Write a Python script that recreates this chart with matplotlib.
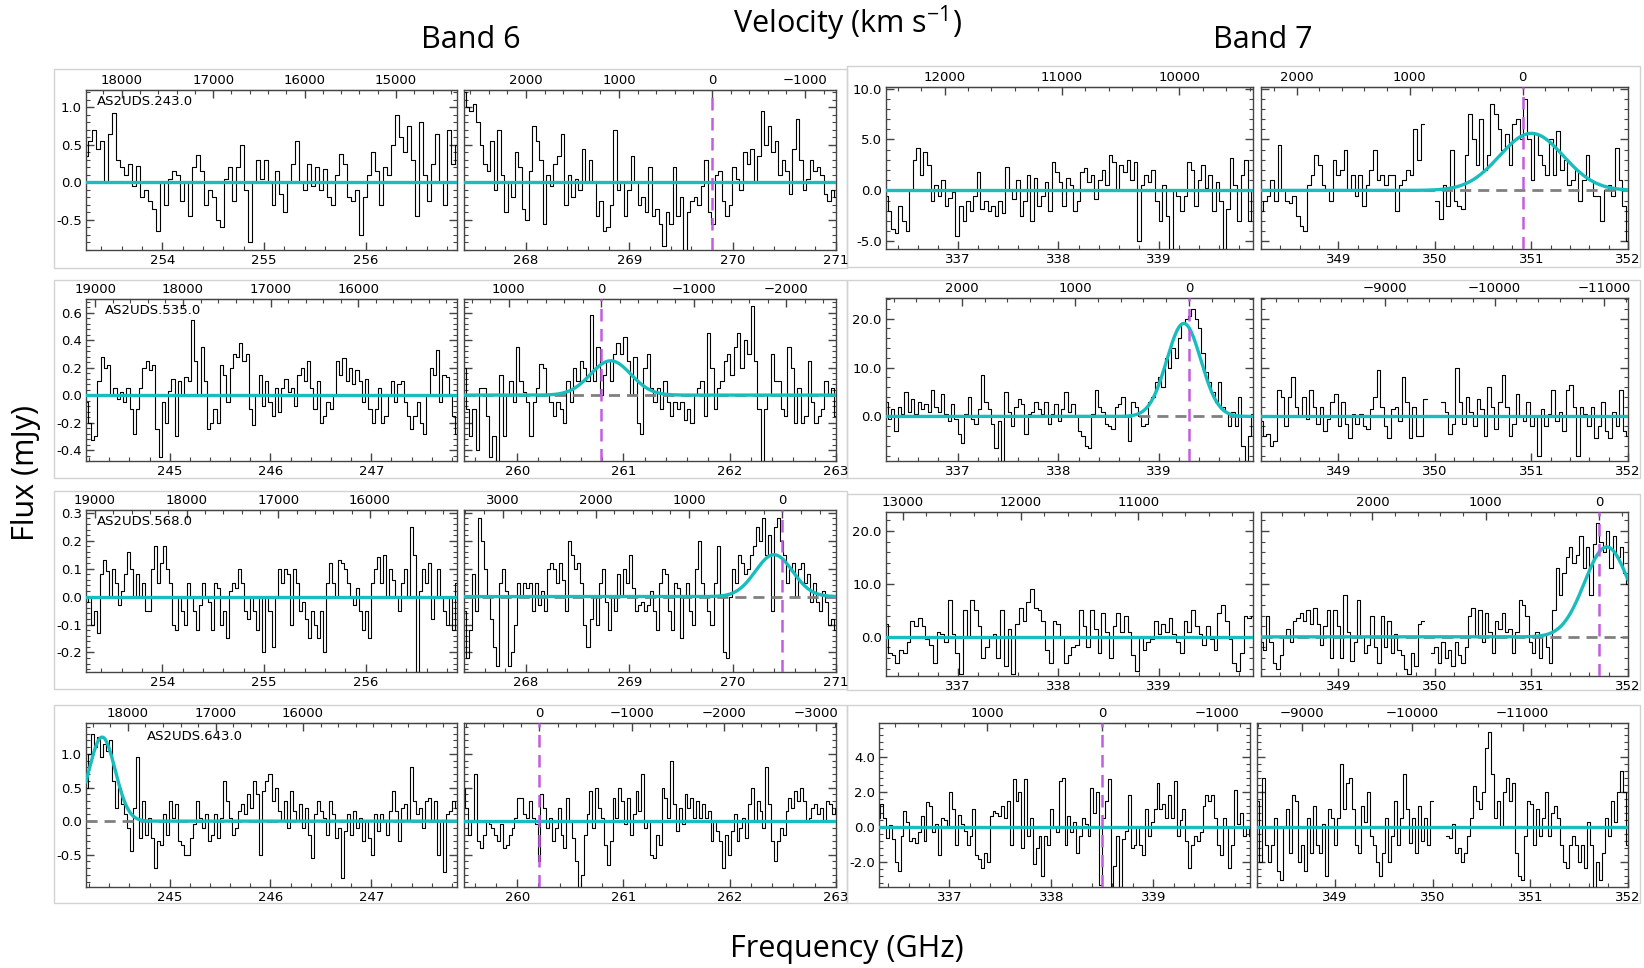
import numpy as np
import matplotlib
matplotlib.use("Agg")
import matplotlib.pyplot as plt
from matplotlib.ticker import MultipleLocator, AutoMinorLocator, FormatStrFormatter, FuncFormatter, FixedLocator
from matplotlib.patches import Rectangle

nan = float("nan")
C_KMS = 299792.458

# ---------------- data ----------------
sources = ["AS2UDS.243.0", "AS2UDS.535.0", "AS2UDS.568.0", "AS2UDS.643.0"]

# rest-frame reference (v = 0) frequency of each row, GHz
nu0_b6 = [269.80, 260.79, 270.48, 260.21]
nu0_b7 = [350.91, 339.30, 351.70, 338.50]

# frequency coverage of each panel (GHz)
freq_b6_lo = [(253.25, 256.90), (244.17, 247.85), (253.25, 256.90), (244.17, 247.85)]
freq_b6_hi = [(267.40, 271.00), (259.50, 263.00), (267.40, 271.00), (259.50, 263.00)]
freq_b7_lo = [(336.28, 339.94), (336.28, 339.94), (336.28, 339.94), (336.31, 339.95)]
freq_b7_hi = [(348.20, 352.00), (348.20, 352.00), (348.20, 352.00), (348.20, 352.00)]

# labelled velocity ticks (km/s) on the top axes
vticks_b6_lo = [[18000, 17000, 16000, 15000], [19000, 18000, 17000, 16000],
                [19000, 18000, 17000, 16000], [18000, 17000, 16000]]
vticks_b6_hi = [[2000, 1000, 0, -1000], [1000, 0, -1000, -2000],
                [3000, 2000, 1000, 0], [0, -1000, -2000, -3000]]
vticks_b7_lo = [[12000, 11000, 10000], [2000, 1000, 0],
                [13000, 12000, 11000], [1000, 0, -1000]]
vticks_b7_hi = [[2000, 1000, 0], [-9000, -10000, -11000],
                [2000, 1000, 0], [-9000, -10000, -11000]]

ylim_b6 = [(-0.90, 1.23), (-0.48, 0.70), (-0.27, 0.31), (-0.98, 1.46)]
ylim_b7 = [(-5.75, 10.15), (-9.1, 24.2), (-7.4, 23.6), (-3.4, 5.9)]
ystep_b6 = [0.5, 0.2, 0.1, 0.5]
ystep_b7 = [5.0, 10.0, 10.0, 2.0]

# Gaussian fits: (amplitude mJy, centre GHz, sigma GHz) or None
fit_b6_lo = [None, None, None, (1.25, 244.33, 0.13)]
fit_b6_hi = [None, (0.25, 260.88, 0.19), (0.15, 270.40, 0.18), None]
fit_b7_lo = [None, (19.0, 339.25, 0.17), None, None]
fit_b7_hi = [(5.6, 351.00, 0.33), None, (17.0, 351.78, 0.23), None]

# spectra (mJy), channels evenly spaced across each panel
flux_r1_b6_lo = [0.35,0.55,0.7,0.45,0.55,0.0,0.65,0.93,0.3,0.2,0.1,0.25,-0.05,0.22,-0.2,-0.1,-0.25,-0.35,-0.65,0.0,-0.3,0.05,0.15,0.1,-0.25,0.0,-0.45,0.2,0.37,0.15,-0.3,-0.1,-0.2,-0.5,-0.6,0.05,0.2,-0.25,0.2,0.5,-0.1,-0.8,0.0,0.3,0.05,0.3,0.0,-0.3,0.15,-0.15,-0.4,0.0,0.25,0.55,0.0,-0.1,0.25,-0.05,0.2,-0.1,0.18,-0.2,-0.3,0.1,0.38,0.25,-0.2,-0.25,-0.1,-0.7,-0.2,0.1,0.4,0.15,-0.3,0.2,0.1,0.5,0.9,0.6,0.4,0.75,0.3,-0.45,0.8,0.1,-0.25,0.25,0.65,0.0,-0.3,0.7,0.25,0.5]
flux_r1_b6_hi = [1.2,1.0,0.95,1.05,0.8,0.5,0.25,0.15,0.55,-0.1,0.7,0.1,-0.4,0.0,-0.2,0.4,0.2,-0.35,-0.5,0.15,0.75,0.55,0.3,-0.55,0.1,-0.05,0.25,0.35,0.65,-0.3,0.1,-0.2,0.05,-0.1,0.45,0.0,0.3,0.0,-0.45,-0.25,-0.65,-0.6,-0.3,0.7,-0.1,0.0,-0.45,-0.1,0.35,0.0,-0.3,-0.2,-0.4,0.2,-0.45,-0.35,-0.55,-0.85,-0.4,-0.55,0.2,-0.45,-0.2,-0.9,-0.4,-0.25,-0.2,-0.3,-0.05,0.3,-0.4,-0.55,0.1,0.15,-0.25,-0.45,-0.3,0.2,0.05,-0.1,0.4,0.25,0.45,0.0,0.35,0.95,0.5,0.75,0.4,0.55,0.1,0.3,0.15,-0.15,0.45,0.85,0.3,-0.1,0.05,0.3,0.15,0.2,0.1,-0.15,-0.25,-0.1,-0.2]
flux_r1_b7_lo = [-0.5,-2.0,-3.8,-4.2,-1.5,-3.0,-4.0,0.0,3.0,4.2,1.5,3.8,2.5,-1.0,0.5,-0.5,1.0,-1.5,-0.7,-0.2,-4.5,-1.5,-3.0,-1.0,-2.0,-0.5,1.8,-1.8,-1.0,-2.0,-1.5,-2.5,-1.0,-2.2,2.3,0.0,-0.8,1.0,-2.5,-1.0,1.5,-3.0,1.2,-1.5,-0.5,0.8,-2.0,2.8,1.8,0.8,-1.5,1.2,0.5,-2.0,-1.0,1.8,2.2,0.8,1.5,-0.8,1.0,2.0,0.5,3.5,2.8,0.0,2.5,1.8,3.0,1.0,2.8,-5.0,0.5,1.5,0.8,2.0,-1.0,-3.0,0.5,-2.5,-5.8,0.0,-0.5,-2.0,-0.5,2.8,2.0,-1.5,1.0,2.5,0.2,1.5,-2.0,0.8,-1.0,-5.8,-1.8,3.2,0.5,-3.0,1.5,3.0,-3.0,0.0]
flux_r1_b7_hi = [-2.0,-1.0,-0.5,1.0,-1.0,4.5,0.0,-1.0,-1.2,-0.5,-2.5,-3.5,-4.0,0.5,1.5,3.5,2.5,0.5,0.0,-1.0,3.0,1.5,2.0,4.0,0.0,1.5,-0.5,1.5,-1.5,0.5,2.0,4.0,1.0,1.5,0.5,1.5,1.5,-2.0,0.5,1.0,2.0,1.5,6.0,3.0,6.5,nan,nan,nan,-1.0,-2.8,0.5,-1.5,4.0,-1.0,-1.5,-1.8,3.5,7.5,5.0,2.5,7.0,2.0,3.5,8.5,7.5,6.0,4.0,5.5,2.5,6.5,7.0,5.0,9.0,5.0,1.0,5.5,3.5,2.5,1.5,5.0,1.5,5.8,2.0,3.0,0.5,1.0,2.0,-1.0,1.0,3.5,1.0,-0.5,-0.5,-3.0,0.0,0.5,-0.5,4.2,1.0,-1.5,-5.0]

flux_r2_b6_lo = [-0.05,-0.2,-0.33,-0.3,0.1,0.28,0.2,0.22,0.0,0.05,-0.03,0.02,-0.05,0.05,-0.1,-0.28,-0.1,0.05,0.2,0.25,0.18,0.22,-0.25,-0.45,-0.05,-0.2,0.03,0.12,-0.3,0.1,0.0,0.13,0.1,0.55,0.25,0.0,0.35,0.1,-0.25,-0.2,-0.1,-0.2,0.22,0.15,-0.05,0.2,0.3,0.28,0.38,0.25,0.3,-0.1,-0.22,0.0,0.15,-0.08,0.1,-0.05,-0.15,0.05,-0.12,0.05,0.12,0.02,0.05,-0.08,0.15,0.2,0.1,0.25,0.05,-0.1,0.1,-0.2,-0.15,-0.05,-0.1,0.0,0.25,0.15,0.27,0.1,0.2,0.08,0.18,0.1,-0.05,0.12,-0.1,-0.2,-0.1,0.05,-0.2,-0.15,0.0,0.1,-0.05,0.08,0.1,-0.05,-0.15,-0.25,-0.15,-0.05,-0.2,-0.28,0.0,0.2,0.15,0.33,-0.05,0.15,0.13,0.0,-0.15,-0.28]
flux_r2_b6_hi = [0.2,-0.1,-0.3,-0.1,-0.4,0.05,0.05,-0.15,-0.45,-0.3,-0.48,0.15,-0.3,0.0,0.1,-0.05,0.35,0.1,0.02,-0.05,-0.3,-0.05,0.05,0.23,0.2,0.0,-0.05,-0.15,-0.05,-0.1,-0.2,0.1,-0.05,0.2,0.1,0.25,0.2,0.1,0.58,0.1,0.35,0.0,0.15,0.25,0.1,0.3,0.38,0.3,0.42,0.25,0.0,0.28,-0.2,-0.28,0.2,0.3,0.05,-0.05,0.05,-0.1,0.1,-0.05,-0.15,-0.05,-0.1,-0.05,-0.18,-0.1,-0.2,0.0,0.05,0.1,-0.15,0.45,0.2,-0.1,0.05,0.1,0.25,0.3,0.15,0.35,0.45,0.2,0.4,0.3,0.65,0.25,-0.1,-0.48,-0.1,0.0,0.3,0.1,0.1,-0.1,-0.15,0.35,0.2,-0.2,0.05,-0.2,-0.15,0.25,-0.05,-0.2,-0.15,-0.1,0.1,0.0,0.05,-0.15]
flux_r2_b7_lo = [3.0,-0.5,1.5,-3.0,2.0,0.5,5.0,1.0,3.5,0.5,3.0,1.5,2.5,1.0,5.5,2.0,1.0,4.5,0.5,-1.0,2.5,-0.5,-3.5,-5.5,0.5,4.0,-0.5,-1.5,1.5,8.5,3.0,1.5,-1.5,-6.5,-1.0,-9.0,5.0,1.0,-2.0,2.0,3.5,2.5,-3.5,0.5,1.0,3.0,1.5,0.5,3.0,-1.5,0.5,2.5,-1.0,1.5,5.0,1.0,2.5,0.0,-3.0,-4.0,-6.0,-6.5,0.5,5.5,2.0,1.0,-1.5,-2.0,-2.5,2.0,2.5,4.0,0.0,-5.0,3.0,2.0,0.0,-2.0,-1.5,3.0,4.0,7.0,8.0,6.0,12.0,10.0,14.0,12.0,16.0,19.0,20.0,20.5,22.0,20.0,18.0,13.0,9.0,7.0,5.0,3.0,7.0,2.0,1.0,-2.0,1.0,-2.0,4.0,-6.0,-9.0,-4.0,0.5]
flux_r2_b7_hi = [-1.0,-4.0,-3.5,-6.0,-5.0,5.5,4.0,-2.0,4.0,8.0,2.0,0.0,4.0,-0.5,5.5,2.0,-1.5,2.0,-3.0,-0.5,3.0,4.5,-2.0,3.0,-1.5,-4.5,0.5,-1.5,0.5,-2.0,-2.5,1.5,4.0,9.5,2.0,-2.0,-4.5,1.5,2.0,-1.0,8.0,3.0,-4.5,2.0,-4.0,-4.0,3.5,nan,nan,nan,nan,3.0,1.0,-3.5,-1.5,10.0,3.0,-1.5,4.0,1.0,-2.0,3.5,1.5,-4.0,6.0,2.0,-2.5,3.0,8.5,2.0,-4.0,-1.5,4.5,0.0,-1.0,3.0,-2.0,0.0,-8.0,1.5,-2.0,0.5,5.5,-1.0,1.0,-3.0,5.5,6.5,2.0,-8.0,2.0,0.5,-2.0,2.0,-4.5,-2.0,3.0,-3.0,-4.5,1.0,-2.0,5.5,-3.0,-4.0]

flux_r3_b6_lo = [-0.02,0.0,-0.1,-0.05,-0.13,0.08,0.13,0.09,0.0,0.1,0.05,-0.03,0.02,0.08,0.16,0.1,0.0,0.08,0.0,0.05,-0.05,-0.05,0.1,0.18,0.05,0.12,0.18,0.1,0.05,-0.1,-0.12,0.0,-0.05,-0.1,0.05,0.0,-0.05,-0.12,-0.03,0.05,0.0,-0.02,-0.12,0.05,0.03,-0.1,-0.05,-0.15,0.02,0.05,0.03,0.1,0.05,-0.05,-0.08,0.0,-0.05,-0.12,0.0,-0.2,0.0,-0.05,-0.18,0.0,0.1,0.05,0.1,0.08,-0.1,0.1,0.05,-0.05,-0.02,-0.08,-0.15,-0.05,-0.1,-0.15,-0.05,-0.2,0.05,0.12,0.05,0.0,0.13,0.12,0.1,0.05,0.0,-0.03,0.03,-0.05,-0.12,-0.05,-0.15,0.05,0.1,0.14,0.05,0.15,0.0,0.1,0.06,0.0,-0.05,0.05,0.1,0.0,0.25,0.15,-0.27,0.02,0.1,0.05,0.12,-0.08,0.0,0.1,0.0,-0.05,-0.1,0.0,-0.12,0.05]
flux_r3_b6_hi = [-0.05,-0.22,-0.12,0.08,-0.05,0.28,0.2,0.1,0.0,-0.08,-0.18,-0.25,0.05,0.1,0.02,-0.25,-0.2,-0.1,0.05,0.0,0.05,0.03,0.05,-0.05,0.05,-0.03,0.02,-0.05,0.1,0.12,0.1,0.05,0.12,0.06,-0.05,0.2,0.15,0.1,0.12,0.05,-0.1,-0.18,-0.08,0.0,-0.1,0.05,0.1,-0.02,-0.12,0.0,-0.05,0.08,0.0,0.1,0.05,0.15,0.03,-0.05,-0.03,-0.02,-0.05,-0.03,0.02,-0.05,-0.12,0.05,0.1,0.08,-0.05,-0.12,0.05,0.03,-0.15,0.0,0.05,-0.05,-0.1,0.1,0.2,0.05,0.0,-0.05,-0.1,0.05,0.18,0.0,-0.2,-0.22,0.0,0.1,0.05,0.15,0.12,0.08,0.1,0.15,0.18,0.25,0.2,0.28,0.15,0.22,-0.05,0.25,0.28,0.2,0.15,0.05,0.1,0.12,0.0,0.1,0.12,0.05,0.08,-0.02,0.05,-0.02,-0.05,0.02,-0.02,-0.1,-0.08,-0.12]
flux_r3_b7_lo = [2.5,-3.0,-3.5,-5.0,-2.5,-3.0,-1.0,3.0,2.0,3.5,2.0,-0.5,-1.5,-5.0,1.0,0.5,-1.0,7.0,0.5,-3.0,-7.0,5.0,0.0,7.0,5.0,2.0,-4.0,-2.0,0.0,0.5,-4.0,5.0,-5.5,1.5,-7.0,2.5,5.5,3.0,6.5,9.0,5.5,5.0,3.0,-2.5,-5.0,3.0,2.5,0.0,-5.0,-3.5,-2.0,-1.5,5.0,2.0,-2.0,5.0,1.5,-3.0,4.5,1.0,-4.0,2.0,4.5,1.0,4.0,1.0,-3.5,-6.5,0.0,-2.5,-1.0,-0.5,3.0,0.5,2.5,1.0,3.5,0.5,-1.0,-3.0,3.0,1.0,5.0,2.0,0.5,-1.5,2.0,-0.5,-2.5,4.5,6.0,3.0,-0.5,-5.0,-6.5,-3.0,4.0,3.5,4.0]
flux_r3_b7_hi = [-1.0,-2.5,4.0,-1.0,-5.0,-6.0,-3.5,0.0,1.5,-1.0,3.0,3.5,4.5,3.0,5.0,2.5,5.5,2.5,-1.5,2.0,5.0,-4.0,5.0,2.0,-4.0,8.0,1.0,-4.5,-1.0,7.0,0.0,-3.0,-1.5,4.0,-2.0,-5.0,4.0,-2.0,3.0,-3.0,0.5,-2.5,-3.5,-6.0,-7.0,-3.0,-5.5,2.5,3.0,nan,nan,-3.0,-2.0,-5.0,-1.0,-4.0,-2.5,-5.5,-1.0,-3.5,-5.0,-2.0,4.0,5.5,0.0,5.0,-1.0,4.5,1.0,-3.0,3.0,1.5,4.5,1.0,1.5,-3.0,1.0,7.0,6.0,4.0,-1.0,-3.0,1.0,-4.0,0.5,-2.0,-5.0,5.0,13.0,8.0,12.0,15.0,17.0,14.0,15.5,19.0,13.0,17.0,8.0,17.5,21.5,18.0,16.0,20.0,13.0,19.0,15.0,17.0,12.0,10.0]

flux_r4_b6_lo = [0.5,1.0,1.3,1.1,1.25,0.95,1.15,1.05,1.2,0.6,0.2,0.5,0.25,0.1,-0.1,-0.45,0.2,0.95,-0.25,0.3,-0.2,0.05,-0.25,-0.7,-0.3,-0.35,0.1,-0.2,0.3,0.05,0.25,-0.3,-0.35,-0.5,-0.5,-0.25,-0.05,0.3,0.05,-0.1,0.1,-0.3,-0.2,0.1,-0.25,0.05,0.6,0.3,0.05,-0.2,-0.1,0.15,0.25,0.1,0.4,0.2,0.6,0.4,-0.5,0.45,0.6,0.7,0.3,0.5,0.15,0.0,0.3,-0.1,0.45,0.15,0.0,0.25,-0.1,0.2,-0.2,-0.55,0.1,0.3,0.15,0.05,-0.2,0.3,0.1,-0.25,-0.1,-0.85,-0.15,0.1,-0.2,0.15,-0.1,0.05,-0.3,0.0,-0.25,-0.5,0.1,-0.15,0.1,0.0,-0.2,0.15,0.45,0.15,-0.3,0.2,0.25,0.0,0.8,0.3,0.1,0.2,-0.1,0.3,0.35,0.0,0.3,-0.5,0.0,-0.75,0.1,0.15,0.3,0.2]
flux_r4_b6_hi = [0.5,0.2,-0.2,0.0,0.7,-0.3,-0.4,-0.2,0.0,-0.05,-0.1,-0.2,-0.3,-0.05,-0.4,-0.35,-0.2,-0.1,0.05,0.35,0.35,0.1,0.05,0.3,0.05,-0.05,-0.6,0.4,0.2,-0.1,0.05,-0.3,-0.1,0.2,-0.2,-0.4,0.35,0.0,-0.25,-0.6,-1.0,-0.8,-0.2,0.1,0.45,-0.1,0.5,0.2,0.05,-0.35,-0.65,-0.3,0.35,0.05,0.5,0.3,-0.05,0.35,-0.2,0.1,0.45,0.15,0.7,-0.1,0.0,-0.5,-0.55,-0.2,-0.35,0.5,0.35,0.05,0.9,0.25,-0.15,0.2,-0.05,0.4,0.2,0.35,0.05,0.3,0.05,0.25,0.05,0.15,-0.3,0.0,-0.15,-0.3,-0.7,-0.2,-0.5,-0.15,0.1,-0.3,-0.1,0.05,-0.25,0.25,0.5,0.0,0.3,0.15,-0.1,0.8,0.25,-0.3,-0.6,-0.3,-0.1,-0.2,0.15,0.35,0.2,0.45,0.3,0.5,0.3,0.0,0.05,0.2,0.25,0.1,0.2,0.0,0.3,0.25,0.1,0.2]
flux_r4_b7_lo = [0.5,1.3,0.5,-0.6,0.1,-0.7,-2.0,-2.5,-0.5,0.9,0.3,-0.8,-0.6,-0.9,-0.3,0.6,-0.8,1.4,1.2,-0.3,0.2,-1.6,0.5,0.4,0.0,2.0,1.0,-1.0,0.7,0.2,-0.2,-1.0,-0.5,1.0,-1.6,-1.8,-2.3,-1.5,-2.0,0.6,0.9,0.8,0.6,1.2,0.5,1.5,-1.0,2.7,1.5,2.0,-1.2,2.7,-0.5,0.5,-2.1,-1.2,-0.5,-2.8,-0.5,-1.0,1.0,0.0,-0.3,2.6,2.8,-1.0,0.6,-0.3,0.3,-1.5,-0.5,0.5,0.2,-0.5,2.2,0.8,2.0,-3.3,0.5,1.5,2.7,-3.4,-2.2,-0.5,-3.4,-0.7,-0.2,1.8,-1.2,-1.0,0.0,-1.0,-1.6,1.0,-0.5,0.3,1.0,2.5,1.0,1.3,0.5,1.8,0.5,2.6,-0.5,0.4,1.0,-0.8,-2.3,-1.0,-0.5,-0.8,-0.3,1.2,1.8,1.5,1.8,0.5,-1.0,-1.6,0.5,0.0,-2.3,-1.0,2.1,0.2,0.8,-0.5,0.0,-0.5]
flux_r4_b7_hi = [1.5,-2.0,2.8,-1.0,-2.0,-1.0,0.5,-2.5,-3.0,0.0,1.0,-1.5,1.8,1.5,-2.0,-1.0,-2.5,0.5,-1.5,1.2,-1.0,-1.5,0.2,-2.8,1.0,0.5,-1.0,0.5,3.6,1.0,2.5,2.8,1.0,-1.0,-1.5,1.2,0.3,2.0,-0.5,-1.0,-2.0,-2.8,-1.5,0.5,-2.0,-0.5,1.5,-1.0,0.5,3.0,1.0,-0.9,0.5,-1.5,1.2,-0.8,0.5,-1.0,1.5,nan,nan,nan,nan,-0.5,-0.6,0.2,-1.5,-1.2,-2.0,-1.5,-0.5,0.5,2.3,1.5,1.0,2.0,4.5,5.4,3.0,0.5,1.5,0.0,2.0,2.8,1.5,2.5,-1.5,-2.8,-3.0,-0.5,1.5,1.3,-1.0,1.0,-0.5,0.5,2.0,-0.5,0.8,1.2,0.5,-1.0,-2.0,-2.3,-1.0,-0.5,-1.0,-2.0,-1.0,-2.3,0.3,-1.0,-3.5,-2.0,-3.0,-1.5,0.5,-0.5,1.5,0.3,2.0,3.2,2.0,-1.0]

flux_b6_lo = [flux_r1_b6_lo, flux_r2_b6_lo, flux_r3_b6_lo, flux_r4_b6_lo]
flux_b6_hi = [flux_r1_b6_hi, flux_r2_b6_hi, flux_r3_b6_hi, flux_r4_b6_hi]
flux_b7_lo = [flux_r1_b7_lo, flux_r2_b7_lo, flux_r3_b7_lo, flux_r4_b7_lo]
flux_b7_hi = [flux_r1_b7_hi, flux_r2_b7_hi, flux_r3_b7_hi, flux_r4_b7_hi]

# ---------------- layout (pixels in a 1644x968 canvas) ----------------
W, H = 1644, 968
rows_b6 = [(90, 250), (299, 461), (510, 672), (723, 887)]
rows_b7 = [(87, 249), (298, 461), (512, 676), (723, 887)]
cols_b6 = [((86, 457), (464, 836))] * 4
cols_b7 = [((886, 1253), (1261, 1628))] * 3 + [((879, 1250), (1257, 1628))]
frames_b6 = [(54, 69, 847, 268), (54, 280, 847, 478), (54, 491, 847, 689), (54, 705, 847, 903)]
frames_b7 = [(847, 66, 1640, 267), (847, 280, 1640, 478), (847, 494, 1640, 690), (847, 705, 1640, 903)]
label_pos = [(0.03, 0.93), (0.05, 0.93), (0.03, 0.93), (0.165, 0.915)]

FIT_C = "#19bdbd"
LINE_C = "#c25ddf"
ZERO_C = "#808080"
SPINE_C = "#444444"
TICK_FS = 9.5

fig = plt.figure(figsize=(W / 100, H / 100), dpi=100)


def add_ax(l, r, t, b):
    return fig.add_axes([l / W, 1 - b / H, (r - l) / W, (b - t) / H])


def vel_fmt(v, pos):
    if abs(v) < 0.5:
        return "0"
    return f"{v:.0f}".replace("-", "\u2212")


def draw_panel(ax, flux, frange, ylim, ystep, nu0, fit, vticks, show_ylabels):
    lo, hi = frange
    flux = np.asarray(flux, dtype=float)
    freq = np.linspace(lo, hi, len(flux))
    ax.plot(freq, flux, drawstyle="steps-mid", color="black", lw=0.8, zorder=2)
    ax.axhline(0, color=ZERO_C, ls=(0, (4, 2.5)), lw=2.0, zorder=3)
    xs = np.linspace(lo, hi, 800)
    if fit is not None:
        amp, cen, sig = fit
        model = amp * np.exp(-0.5 * ((xs - cen) / sig) ** 2)
    else:
        model = np.zeros_like(xs)
    ax.plot(xs, model, color=FIT_C, lw=2.4, zorder=4)
    if lo < nu0 < hi:
        ax.axvline(nu0, color=LINE_C, ls=(0, (5, 3)), lw=1.8, zorder=5)
    ax.set_xlim(lo, hi)
    ax.set_ylim(*ylim)
    ax.xaxis.set_major_locator(MultipleLocator(1))
    ax.xaxis.set_minor_locator(MultipleLocator(0.2))
    ax.xaxis.set_major_formatter(FormatStrFormatter("%d"))
    ax.yaxis.set_major_locator(MultipleLocator(ystep))
    ax.yaxis.set_minor_locator(AutoMinorLocator(5))
    ax.yaxis.set_major_formatter(FormatStrFormatter("%.1f"))
    ax.tick_params(which="both", direction="in", top=False, right=True,
                   color=SPINE_C, labelsize=TICK_FS, pad=3)
    ax.tick_params(which="major", length=6, width=1.0)
    ax.tick_params(which="minor", length=3, width=0.8)
    if not show_ylabels:
        ax.tick_params(labelleft=False)
    for s in ax.spines.values():
        s.set_color(SPINE_C)
        s.set_linewidth(1.0)
    sec = ax.secondary_xaxis(
        "top",
        functions=(lambda x, n0=nu0: C_KMS * (1 - np.asarray(x) / n0),
                   lambda v, n0=nu0: n0 * (1 - np.asarray(v) / C_KMS)))
    sec.xaxis.set_major_locator(FixedLocator(vticks))
    sec.xaxis.set_minor_locator(MultipleLocator(200))
    sec.xaxis.set_major_formatter(FuncFormatter(vel_fmt))
    sec.tick_params(which="both", direction="in", color=SPINE_C, labelsize=TICK_FS, pad=2)
    sec.tick_params(which="major", length=6, width=1.0)
    sec.tick_params(which="minor", length=3, width=0.8)
    sec.spines["top"].set_color(SPINE_C)


for i in range(4):
    # light frames around each figure block
    for (x0, y0, x1, y1) in (frames_b6[i], frames_b7[i]):
        fig.add_artist(Rectangle((x0 / W, 1 - y1 / H), (x1 - x0) / W, (y1 - y0) / H,
                                 transform=fig.transFigure, fill=False,
                                 ec="#d2d2d2", lw=1.0, zorder=0))
    t6, b6 = rows_b6[i]
    t7, b7 = rows_b7[i]
    (l6a, r6a), (l6b, r6b) = cols_b6[i]
    (l7a, r7a), (l7b, r7b) = cols_b7[i]

    ax = add_ax(l6a, r6a, t6, b6)
    draw_panel(ax, flux_b6_lo[i], freq_b6_lo[i], ylim_b6[i], ystep_b6[i], nu0_b6[i],
               fit_b6_lo[i], vticks_b6_lo[i], True)
    ax.text(label_pos[i][0], label_pos[i][1], sources[i], transform=ax.transAxes,
            ha="left", va="center", fontsize=TICK_FS, zorder=6)
    ax = add_ax(l6b, r6b, t6, b6)
    draw_panel(ax, flux_b6_hi[i], freq_b6_hi[i], ylim_b6[i], ystep_b6[i], nu0_b6[i],
               fit_b6_hi[i], vticks_b6_hi[i], False)

    ax = add_ax(l7a, r7a, t7, b7)
    draw_panel(ax, flux_b7_lo[i], freq_b7_lo[i], ylim_b7[i], ystep_b7[i], nu0_b7[i],
               fit_b7_lo[i], vticks_b7_lo[i], True)
    ax = add_ax(l7b, r7b, t7, b7)
    draw_panel(ax, flux_b7_hi[i], freq_b7_hi[i], ylim_b7[i], ystep_b7[i], nu0_b7[i],
               fit_b7_hi[i], vticks_b7_hi[i], False)

TITLE_FONT = ["Open Sans", "DejaVu Sans"]
fig.text(847 / W, 1 - 23 / H, r"Velocity (km s$^{\mathregular{-1}}$)", ha="center", va="center",
         fontsize=22, family=TITLE_FONT)
fig.text(471 / W, 1 - 40 / H, "Band 6", ha="center", va="center", fontsize=22, family=TITLE_FONT)
fig.text(1263 / W, 1 - 40 / H, "Band 7", ha="center", va="center", fontsize=22, family=TITLE_FONT)
fig.text(26 / W, 1 - 473 / H, "Flux (mJy)", ha="center", va="center", rotation=90,
         fontsize=22, family=TITLE_FONT)
fig.text(847 / W, 1 - 949 / H, "Frequency (GHz)", ha="center", va="center", fontsize=22,
         family=TITLE_FONT)

fig.savefig("out.png", dpi=100, facecolor="white")
